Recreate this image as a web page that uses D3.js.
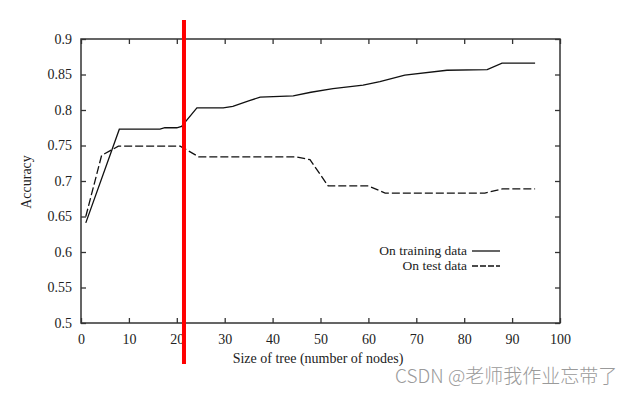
<!DOCTYPE html>
<html>
<head>
<meta charset="utf-8">
<script src="https://cdn.jsdelivr.net/npm/d3@7"></script>
<style>
  body { margin: 0; background: #fff; }
</style>
</head>
<body>
<div id="chart"></div>
<script>
// DATA
var trainX = [1, 8, 16.5, 17.5, 20, 21, 24.2, 29.7, 31.7, 35, 37.4, 44.3, 48, 52.6, 58.9, 62.4, 67.6, 76.4, 84.8, 87.9, 94.8];
var trainY = [0.641, 0.773, 0.773, 0.775, 0.775, 0.777, 0.803, 0.803, 0.805, 0.813, 0.818, 0.820, 0.825, 0.830, 0.835, 0.840, 0.849, 0.856, 0.857, 0.866, 0.866];

var testX = [1, 4.3, 7.8, 20.7, 24.6, 45, 47.8, 51.6, 60, 63.5, 84.3, 88, 94.8];
var testY = [0.65, 0.736, 0.749, 0.749, 0.734, 0.734, 0.730, 0.693, 0.693, 0.683, 0.683, 0.689, 0.689];

var xTicks = [0, 10, 20, 30, 40, 50, 60, 70, 80, 90, 100];
var yTicks = [0.5, 0.55, 0.6, 0.65, 0.7, 0.75, 0.8, 0.85, 0.9];
var cutAt = 21.5;

var serif = "'Liberation Serif', 'DejaVu Serif', serif";

// set the dimensions and margins of the graph
var margin = {top: 39, right: 79, bottom: 71, left: 81},
    width = 639 - margin.left - margin.right,
    height = 394 - margin.top - margin.bottom;

var x = d3.scaleLinear().domain([0, 100]).range([0, width]);
var y = d3.scaleLinear().domain([0.5, 0.9]).range([height, 0]);

var svg = d3.select("#chart").append("svg")
    .attr("width", 639)
    .attr("height", 394)
  .append("g")
    .attr("transform", "translate(" + margin.left + "," + margin.top + ")");

// axes, ticks pointing inward, mirrored on all sides
function styleAxis(g) {
  g.attr("font-family", serif);
  g.select(".domain").remove();
  g.selectAll("line").attr("stroke", "#333").attr("stroke-width", 1.3);
  g.selectAll("text").style("font-family", serif).style("font-size", "14px").attr("fill", "#222");
}

svg.append("g")
    .attr("transform", "translate(0," + height + ")")
    .call(d3.axisBottom(x).tickValues(xTicks).tickSize(-5).tickPadding(11).tickFormat(d3.format("d")))
    .call(styleAxis);

svg.append("g")
    .call(d3.axisTop(x).tickValues(xTicks).tickSize(-5).tickFormat(""))
    .call(styleAxis);

svg.append("g")
    .call(d3.axisLeft(y).tickValues(yTicks).tickSize(-5).tickPadding(9).tickFormat(function(d) { return String(+d.toFixed(2)); }))
    .call(styleAxis);

svg.append("g")
    .attr("transform", "translate(" + width + ",0)")
    .call(d3.axisRight(y).tickValues(yTicks).tickSize(-5).tickFormat(""))
    .call(styleAxis);

// frame
svg.append("rect")
    .attr("width", width)
    .attr("height", height)
    .attr("fill", "none")
    .attr("stroke", "#333")
    .attr("stroke-width", 1.5);

// lines
var line = d3.line()
    .x(function(d) { return x(d[0]); })
    .y(function(d) { return y(d[1]); });

svg.append("path")
    .datum(d3.zip(trainX, trainY))
    .attr("d", line)
    .attr("fill", "none")
    .attr("stroke", "#111")
    .attr("stroke-width", 1.3);

svg.append("path")
    .datum(d3.zip(testX, testY))
    .attr("d", line)
    .attr("fill", "none")
    .attr("stroke", "#111")
    .attr("stroke-width", 1.3)
    .attr("stroke-dasharray", "8,3");

// legend
var legend = svg.append("g").attr("transform", "translate(" + (472 - margin.left) + ",0)");
var legendRows = [
  {label: "On training data", dash: null, y: 251},
  {label: "On test data", dash: "6,2", y: 266}
];
legendRows.forEach(function(r) {
  legend.append("text").attr("x", -5).attr("y", r.y - margin.top).attr("dy", "0.32em")
      .attr("text-anchor", "end").style("font-family", serif).style("font-size", "13.5px")
      .attr("fill", "#222").text(r.label);
  legend.append("line").attr("x1", 0).attr("x2", 28).attr("y1", r.y - margin.top).attr("y2", r.y - margin.top)
      .attr("stroke", "#111").attr("stroke-width", 1.3).attr("stroke-dasharray", r.dash);
});

// axis labels
svg.append("text")
    .attr("x", 318 - margin.left)
    .attr("y", 359 - margin.top)
    .attr("dy", "0.32em")
    .attr("text-anchor", "middle")
    .style("font-family", serif)
    .style("font-size", "14px")
    .attr("fill", "#222")
    .text("Size of tree (number of nodes)");

svg.append("text")
    .attr("transform", "translate(" + (27 - margin.left) + "," + (182 - margin.top) + ") rotate(-90)")
    .attr("dy", "0.32em")
    .attr("text-anchor", "middle")
    .style("font-family", serif)
    .style("font-size", "14px")
    .attr("fill", "#222")
    .text("Accuracy");

// red cut line
svg.append("line")
    .attr("x1", x(cutAt)).attr("x2", x(cutAt))
    .attr("y1", 20 - margin.top).attr("y2", 364 - margin.top)
    .attr("stroke", "#ff0000")
    .attr("stroke-width", 4);

// watermark
d3.select("svg").append("text")
    .attr("x", 395)
    .attr("y", 376)
    .attr("dy", "0.35em")
    .style("font-family", "'Noto Sans CJK SC', 'Noto Sans', sans-serif")
    .style("font-size", "19px")
    .style("font-weight", "300")
    .style("fill", "#9a9a9a")
    .text("CSDN @老师我作业忘带了");
</script>
</body>
</html>
